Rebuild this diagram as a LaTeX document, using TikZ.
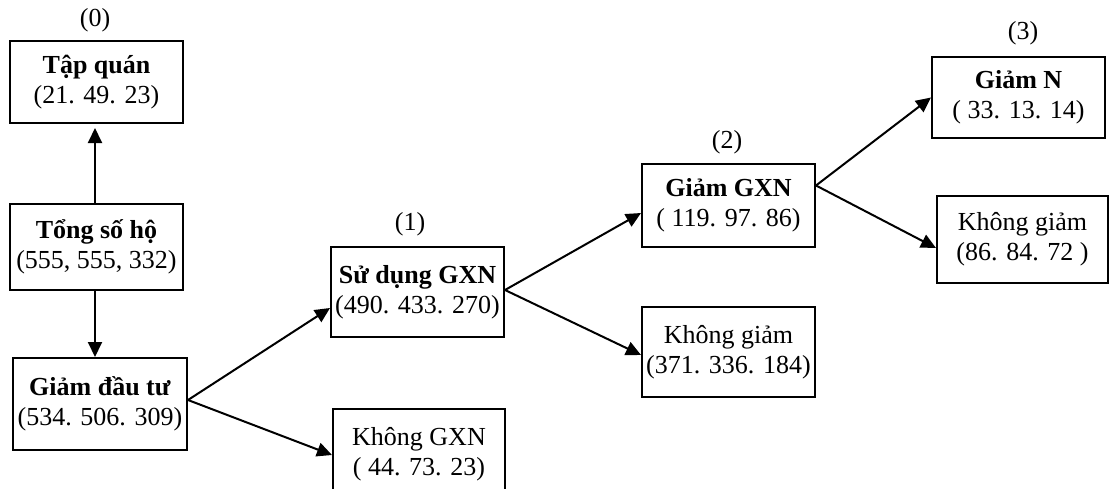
\documentclass[tikz,border=0pt]{standalone}
\usepackage{fontspec}
\setmainfont{Liberation Serif}
\usetikzlibrary{arrows.meta}
\begin{document}
\begin{tikzpicture}[x=1pt,y=-1pt,
  box/.style={draw, line width=2pt, align=center, inner sep=0pt, font=\fontsize{26}{30}\selectfont},
  lbl/.style={inner sep=0pt, font=\fontsize{26}{30}\selectfont},
  arr/.style={line width=2pt, -{Triangle[length=15pt,width=14pt]}}]
\useasboundingbox (0,0) rectangle (1109,488);
\clip (0,0) rectangle (1109,488);
% boxes
\node[box, minimum width=173pt, minimum height=82pt] (tq) at (96.5,82) {\textbf{Tập quán}\\(21. 49. 23)};
\node[box, minimum width=173pt, minimum height=86pt] (tsh) at (96.5,247) {\textbf{Tổng số hộ}\\(555, 555, 332)};
\node[box, minimum width=174pt, minimum height=92pt] (gdt) at (100,404) {\textbf{Giảm đầu tư}\\(534. 506. 309)};
\node[box, minimum width=173pt, minimum height=90pt] (sd) at (417.5,292) {\textbf{Sử dụng GXN}\\(490. 433. 270)};
\node[box, minimum width=172pt, minimum height=90pt] (kgxn) at (419,454) {Không GXN\\( 44. 73. 23)};
\node[box, minimum width=173pt, minimum height=83pt] (ggxn) at (728.5,205.5) {\textbf{Giảm GXN}\\( 119. 97. 86)};
\node[box, minimum width=173pt, minimum height=90pt] (kg1) at (728.5,352) {Không giảm\\(371. 336. 184)};
\node[box, minimum width=173pt, minimum height=81pt] (gn) at (1018.5,97.5) {\textbf{Giảm N}\\( 33. 13. 14)};
\node[box, minimum width=171pt, minimum height=87pt] (kg2) at (1022.5,239.5) {Không giảm\\(86. 84. 72 )};
% level labels
\node[lbl] (l0) at (95,20) {(0)};
\node[lbl] (l1) at (410,224) {(1)};
\node[lbl] (l2) at (727,142) {(2)};
\node[lbl] (l3) at (1023,33) {(3)};
% connectors
\draw[arr, shorten >=4pt] ([xshift=-1.5pt]tsh.north) -- ([xshift=-1.5pt]tq.south);
\draw[arr] ([xshift=-1.5pt]tsh.south) -- ([xshift=-1.5pt]tsh.south |- gdt.north);
\draw[arr] ([yshift=4pt]gdt.east) -- ([yshift=-16pt]sd.west);
\draw[arr] ([yshift=4pt]gdt.east) -- ([yshift=-1pt]kgxn.west);
\draw[arr] ([yshift=2pt]sd.east) -- ([yshift=-7.5pt]ggxn.west);
\draw[arr] ([yshift=2pt]sd.east) -- ([yshift=-3pt]kg1.west);
\draw[arr] ([yshift=20pt]ggxn.east) -- (gn.west);
\draw[arr] ([yshift=20pt]ggxn.east) -- ([yshift=-8.5pt]kg2.west);
\end{tikzpicture}
\end{document}
